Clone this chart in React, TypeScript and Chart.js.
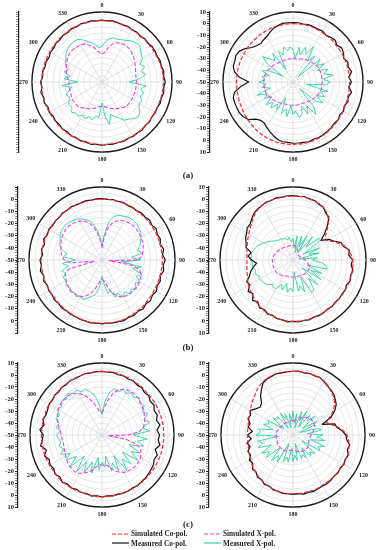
import React, { useEffect, useRef } from "react";
import { Chart, registerables } from "chart.js";
Chart.register(...registerables);

// ---------- categories / tick labels ----------
const ANGLES = [
  0, 5, 10, 15, 20, 25, 30, 35, 40, 45, 50, 55,
  60, 65, 70, 75, 80, 85, 90, 95, 100, 105, 110, 115,
  120, 125, 130, 135, 140, 145, 150, 155, 160, 165, 170, 175,
  180, 185, 190, 195, 200, 205, 210, 215, 220, 225, 230, 235,
  240, 245, 250, 255, 260, 265, 270, 275, 280, 285, 290, 295,
  300, 305, 310, 315, 320, 325, 330, 335, 340, 345, 350, 355,
];
const ANGLE_TICKS = [0, 30, 60, 90, 120, 150, 180, 210, 240, 270, 300, 330];
const LEGEND_LABELS = ["Simulated Co-pol.", "Simulated X-pol.", "Measured Co-pol.", "Measured X-pol."];
const PANEL_LABELS = ["(a)", "(b)", "(c)"];

// ---------- data (dB, every 5 degrees) ----------
const A_L_SIM_CO = [
  0, 0, 0, -0.3, -0.5, -0.5, -0.8, -1, -1, -1, -1.2, -1,
  -1, -0.8, -0.5, -0.3, 0, 0, 0, 0, 0, -0.3, -0.5, -0.5,
  -0.5, -0.3, 0, 0, 0.3, 0.5, 0.5, 0.8, 1, 1, 1, 1,
  1, 1, 1, 1, 0.8, 0.5, 0.5, 0.3, 0, 0, -0.3, -0.5,
  -0.5, -0.5, -0.5, -0.5, -0.5, -0.5, -0.5, -0.8, -1, -1, -1, -1,
  -1, -1, -0.8, -0.5, -0.5, -0.3, 0, 0, 0, 0, 0, 0,
];
const A_L_MEAS_CO = [
  0.5, 0, 0.5, 0, -0.5, 0, -1, -0.5, -1.5, -0.5, -1, 0,
  0, -0.5, 0.5, 0, 1, 0.5, 1.5, 0.5, 1, 0, 0.5, -0.5,
  0, -0.5, 0.5, 0, 1, 0.5, 1, 0.5, 1.5, 1, 1.5, 1,
  1.5, 1, 1.5, 0.5, 1, 0, 0.5, -0.5, 0, -1, -0.5, -1.5,
  -0.5, -1.5, 0, -1, 0.5, -1, 0, -1.5, -1, -2, -1.5, -2.5,
  -1.5, -2, -1, -1.5, -0.5, -1, 0, -0.5, 0.5, 0, 0.5, 0,
];
const A_L_SIM_X = [
  -27, -26, -22, -18, -16, -15, -14.5, -14.5, -15, -16, -17, -18,
  -19, -20, -21, -21.5, -22, -22, -22, -22, -22, -22, -22, -22,
  -22, -22, -22, -22, -23, -24, -25, -26, -27, -28, -29, -30,
  -30, -30, -29, -28, -27, -26, -25, -24, -23, -22, -22, -22,
  -22, -22.5, -23, -23, -23, -23, -23, -22, -21, -20, -19, -18,
  -17, -16, -15, -14.5, -14.5, -15, -15, -16, -18, -20, -23, -26,
];
const A_L_MEAS_X = [
  -21, -17, -14, -13, -13, -12, -11, -9, -8, -7, -9, -11,
  -12, -16, -13, -17, -14, -19, -28, -14, -18, -15, -17, -14,
  -15, -13, -10, -9, -11, -13, -14, -18, -20, -23, -15, -22,
  -33, -21, -22, -18, -20, -17, -19, -16, -17, -15, -18, -17,
  -19, -21, -19, -22, -25, -17, -30, -19, -24, -18, -21, -17,
  -16, -14, -12, -11, -10, -10, -10, -12, -15, -17, -19, -22,
];

const A_R_SIM_CO = [
  0, 0, 0, 0, 0, -0.5, -0.5, -1, -1, -1, -1.5, -1.5,
  -1.5, -1.5, -1.5, -1.5, -1.5, -1.5, -1.5, -1.5, -1.5, -1.5, -1, -1,
  -0.5, 0, 0.5, 1, 1.5, 2, 2.5, 3, 3, 3.5, 3.5, 3.5,
  3.5, 3.5, 3.5, 3.5, 3, 3, 2.5, 2, 1.5, 1, 0.5, 0,
  -0.5, -1, -1, -1.5, -1.5, -1.5, -1.5, -1.5, -1.5, -1.5, -1.5, -1.5,
  -1.5, -1.5, -1, -1, -1, -0.5, -0.5, -0.5, 0, 0, 0, 0,
];
const A_R_MEAS_CO = [
  1, 1, 0.5, 1, 0.5, 0, 0.5, -1, 0, 1, -1, 1,
  0, -2, 0, -1, 1, -2, 0, -2, 1, -1, 0, -1.5,
  0, -1, 0.5, 0, 1, 1.5, 2, 2.5, 2, 3, 2.5, 2.5,
  2.5, 2, 2, 1, -1, -3, -5, -7, -7, -5, 0, 2,
  3, 3, 3, 3, 1, -5, -12, -4, 1, 3, 3, 4,
  3, 0, -4, -6, -7, -6, -5, -3, -1, 0, 1, 1,
];
const A_R_SIM_X = [
  -30, -30, -30, -29.5, -29, -28.5, -28, -27.5, -27, -26.5, -26, -25.5,
  -25, -25, -25, -25, -25, -25, -25, -25, -25, -25, -25.5, -26,
  -26.5, -27, -27.5, -28, -28.5, -29, -29.5, -30, -30, -30, -30, -30,
  -30, -30, -30, -30, -30, -29.5, -29, -28.5, -28, -27.5, -27, -26.5,
  -26, -25.5, -25, -25, -25, -25, -25, -25, -25, -25.5, -26, -26.5,
  -27, -27.5, -28, -28.5, -29, -29.5, -30, -30, -30, -30, -30, -30,
];
const A_R_MEAS_X = [
  -22, -30, -20, -26, -18, -24, -15, -28, -21, -44, -20, -25,
  -19, -27, -18, -23, -15, -24, -18, -22, -38, -19, -25, -20,
  -27, -19, -24, -42, -22, -16, -26, -20, -28, -21, -19, -25,
  -22, -30, -20, -26, -21, -35, -22, -27, -21, -25, -20, -28,
  -22, -26, -17, -30, -23, -27, -21, -26, -23, -29, -22, -27,
  -40, -23, -16, -22, -26, -20, -38, -21, -25, -19, -23, -20,
];

const B_L_SIM_CO = [
  0, 0, 0, 0, 0, 0, -0.5, -0.5, -0.5, -0.5, -0.5, -0.5,
  -0.5, -0.5, -0.5, -0.5, -0.5, -0.5, -0.5, -0.5, -0.5, -0.5, -0.5, -0.5,
  -0.5, 0, 0, 0.5, 1, 1, 1.5, 1.5, 2, 2, 2, 2,
  2, 2, 2, 2, 1.5, 1.5, 1, 1, 0.5, 0.5, 0, 0,
  0, 0, 0, 0, 0, 0, 0, 0, 0, 0, 0, 0,
  0, 0, 0, 0, 0, 0, 0, 0, 0, 0, 0, 0,
];
const B_L_MEAS_CO = [
  0.5, 0, 0.5, 0, 0.5, -0.5, 0, -0.5, 0.5, 0, 1, 0,
  1.5, 0, 1, -0.5, 1.5, 0, 2, 0.5, 1.5, -0.5, 1, 0,
  1.5, 0.5, 2, 1, 2.5, 1.5, 2.5, 2, 3, 2.5, 2.5, 2,
  2.5, 2, 2.5, 2, 2, 1.5, 1.5, 1, 1.5, 0.5, 1, 0,
  0.5, -0.5, 1, -0.5, 1.5, 0, 1, -1, 0.5, -1, 1, -0.5,
  0.5, -0.5, 0, -0.5, 0.5, 0, 0.5, 0, 0, 0.5, 0, 0.5,
];
const B_L_SIM_X = [
  -40, -32, -24, -19, -16, -14, -13, -12.5, -12, -12, -12, -12.5,
  -13, -13.5, -14, -15, -16, -17, -21, -44, -24, -18, -16, -15,
  -14.5, -14, -14, -14, -14, -14.5, -15, -17, -20, -24, -29, -33,
  -34, -33, -29, -24, -20, -17, -15, -14.5, -14, -14, -14.5, -15,
  -16, -17, -18, -22, -44, -24, -19, -17, -16, -15, -14, -13,
  -12, -11.5, -11, -11, -11.5, -12, -13, -15, -17, -21, -27, -34,
];
const B_L_MEAS_X = [
  -38, -30, -18, -13, -11, -10, -9, -8.5, -8.5, -9, -10, -11,
  -13, -15, -17, -20, -16, -26, -18, -34, -17, -24, -15, -19,
  -14, -17, -13, -16, -14, -18, -15, -20, -17, -24, -22, -30,
  -37, -28, -22, -19, -17, -14, -16, -13, -15, -13, -15, -14,
  -16, -15, -18, -16, -22, -17, -28, -18, -21, -15, -13, -12,
  -10, -9, -8.5, -8.5, -9, -10, -11, -13, -15, -18, -24, -31,
];

const B_R_SIM_CO = [
  2.5, 2.5, 2.5, 2, 1.5, 1, 0, -2, -5, -9, -14, -18,
  -18, -14, -10, -6, -3.5, -2, -1, -0.5, -0.5, -0.5, -0.5, -0.5,
  -0.5, -0.5, -0.5, -0.5, -0.5, -0.5, 0, 0, 0, 0.5, 0.5, 0.5,
  0.5, 0.5, 0, -0.5, -1, -1.5, -2, -3, -4, -5, -6, -7,
  -8, -9, -10, -11, -11.5, -12, -12, -12, -11.5, -11, -10, -9,
  -8, -6.5, -5, -3, -1, 0.5, 1.5, 2, 2.5, 2.5, 2.5, 2.5,
];
const B_R_MEAS_CO = [
  3, 2.5, 3, 2, 2, 0.5, 0, -3, -4, -10, -16, -22,
  -16, -13, -8, -7, -3, -4, -1, -2, 0, -1, 0, -1.5,
  -0.5, -1, -0.5, -1, 0, -0.5, 0, 0.5, 0, 1, 0.5, 1,
  0.5, 1, 0, 0, -1.5, -1, -3, -2, -5, -3, -7, -5,
  -9, -8, -12, -14, -17, -20, -16, -13, -15, -10, -9, -7,
  -6, -4, -4, -2, 0, 1, 1.5, 2.5, 2, 3, 2.5, 3,
];
const B_R_SIM_X = [
  -38, -38, -38.5, -39, -40, -41, -42, -43, -43.5, -44, -44, -44,
  -44, -43.5, -43, -42.5, -42, -41, -40, -39, -38, -37, -36, -35.5,
  -35, -35, -35, -35, -35, -35.5, -36, -36, -36, -36, -36, -36,
  -36, -36, -36, -36, -36, -35.5, -35, -34.5, -34, -33.5, -33, -33,
  -33, -33, -33, -33, -33, -33, -33, -33, -33.5, -34, -34.5, -35,
  -35.5, -36, -36.5, -37, -37, -37.5, -37.5, -38, -38, -38, -38, -38,
];
const B_R_MEAS_X = [
  -32, -40, -30, -44, -29, -38, -27, -42, -25, -35, -22, -24,
  -40, -26, -36, -28, -45, -30, -34, -27, -22, -21, -38, -24,
  -33, -22, -40, -21, -30, -20, -19, -35, -22, -28, -24, -40,
  -24, -27, -23, -30, -24, -28, -23, -22, -24, -21, -20, -19,
  -18, -19, -17, -18, -16, -17, -15, -16, -15, -17, -18, -20,
  -22, -24, -26, -28, -29, -30, -30, -31, -31, -33, -31, -35,
];

const C_L_SIM_CO = [
  3, 3, 3, 3, 2.5, 2.5, 2, 2, 2, 1.5, 1.5, 1.5,
  1.5, 1.5, 1.5, 1.5, 1.5, 1.5, 1.5, 1.5, 1.5, 1.5, 1.5, 1.5,
  1.5, 1.5, 1.5, 1.5, 1.5, 1.5, 1.5, 1.5, 1.5, 1.5, 1.5, 1.5,
  1.5, 1.5, 1.5, 1, 1, 1, 1, 1, 1, 1, 0.5, 0.5,
  0.5, 0.5, 0.5, 0.5, 0.5, 0.5, 0.5, 0.5, 0.5, 0.5, 0.5, 1,
  1, 1, 1.5, 1.5, 2, 2, 2.5, 2.5, 2.5, 3, 3, 3,
];
const C_L_MEAS_CO = [
  3, 2.5, 3, 2, 2.5, 1.5, 2, 1, 1.5, 0, 1, -1,
  0, -2, -1, -3, -1, -4, -2, -3, -1, -4, -1, -2,
  -0.5, 0, 0.5, 1, 1, 1.5, 1, 1.5, 1.5, 1, 1.5, 1,
  1.5, 1, 1.5, 0.5, 1, 0, 1, 0, 1.5, -0.5, 1, -1,
  0, -1.5, 1, -2, 2, 0, -1, 2, -1, 1, -0.5, 0,
  1, 0.5, 1.5, 1, 2, 1.5, 2.5, 2, 2.5, 3, 2.5, 3,
];
const C_L_SIM_X = [
  -31, -27, -20, -14, -10, -8, -7, -6.5, -6.5, -7, -8, -9,
  -10, -11, -12, -13.5, -15, -19, -28, -45, -30, -20, -16, -14,
  -13, -12, -12, -12, -12.5, -13, -14, -16, -18, -21, -24, -25,
  -25, -25, -23, -20, -17, -15, -13, -12, -12, -12.5, -13, -14,
  -15, -16, -16.5, -17, -17, -16.5, -16, -15, -13.5, -12, -10.5, -9,
  -8, -7, -6.5, -6.5, -7, -8, -10, -13, -17, -22, -27, -31,
];
const C_L_MEAS_X = [
  -33, -22, -14, -10, -12, -8, -10, -7, -9, -6, -9, -7,
  -11, -8, -13, -9, -16, -10, -24, -12, -20, -14, -26, -15,
  -22, -13, -28, -16, -24, -14, -30, -17, -25, -19, -32, -23,
  -27, -21, -31, -17, -26, -15, -24, -13, -27, -12, -22, -14,
  -19, -12, -16, -13, -15, -14, -12, -15, -11, -13, -9, -11,
  -7, -9, -6, -8, -5, -8, -7, -10, -9, -13, -17, -25,
];

const C_R_SIM_CO = [
  3, 3, 3, 3, 3, 2.5, 2, 0.5, -1.5, -3, -5, -8,
  -12, -17, -20, -17, -12, -8, -5, -3.5, -2.5, -2, -1.5, -1.5,
  -1.5, -1.5, -1.5, -1.5, -1.5, -1.5, -1.5, -1, -1, -1, -1, -1,
  -1, -1, -1, -1.5, -2, -2.5, -3, -4, -5, -6, -7, -8,
  -9, -10, -11, -11.5, -12, -12, -12, -12, -12, -11.5, -11, -10,
  -9, -7.5, -6, -4.5, -2.5, -0.5, 1, 2, 2.5, 3, 3, 3,
];
const C_R_MEAS_CO = [
  3, 3.5, 2.5, 3, 2.5, 3, 1.5, 0, -1, -2, -4, -6,
  -10, -15, -24, -14, -13, -9, -6, -5, -2, -3, -1, -2,
  -1, -2, -1, -1.5, -1, -0.5, -1, -0.5, 0, -0.5, 0, -1,
  -0.5, -1, -0.5, -1.5, -1.5, -3, -2.5, -4.5, -4, -6.5, -6, -9,
  -8, -11, -10, -13, -11, -15, -12, -16, -12, -13, -10, -11,
  -9, -12, -14, -13, -8, -4, 0, 1.5, 2, 3, 2.5, 3,
];
const C_R_SIM_X = [
  -38, -38, -37, -36, -35, -34, -33, -32, -31, -30, -30, -30,
  -30, -30.5, -31, -32, -33, -34, -35, -35.5, -36, -36, -36, -35.5,
  -35, -34.5, -34, -34, -34, -34, -34.5, -35, -35.5, -36, -36.5, -37,
  -37, -37, -37, -36.5, -36, -35.5, -35, -35, -35, -35, -35, -35,
  -35, -35.5, -36, -36, -36, -36, -36, -36, -36, -36.5, -37, -37,
  -37.5, -38, -38, -38, -38, -38, -38.5, -38.5, -38.5, -38.5, -38, -38,
];
const C_R_MEAS_X = [
  -30, -40, -32, -44, -29, -37, -27, -42, -28, -33, -26, -40,
  -27, -31, -44, -29, -26, -38, -25, -30, -23, -35, -22, -27,
  -24, -41, -26, -30, -27, -37, -28, -32, -29, -43, -28, -33,
  -28, -39, -27, -31, -26, -42, -24, -29, -22, -35, -21, -26,
  -20, -30, -19, -24, -20, -38, -19, -23, -21, -33, -24, -28,
  -26, -41, -28, -32, -30, -43, -29, -35, -31, -44, -32, -38,
];

// ---------- layout / styles ----------
const RMIN = -50;
const AXW = 24;
const PAD_T = 14;
const PAD_B = 16;
const PAD_R = 20;
const FONT = '"Liberation Serif", "Times New Roman", serif';

type Panel = {
  id: string; cx: number; cy: number; r: number; axisX: number;
  max: number; labelMax: number;
  simCo: number[]; simX: number[]; measCo: number[]; measX: number[];
};

const PANELS: Panel[] = [
  { id: "aL", cx: 102, cy: 82, r: 70, axisX: 19, max: 7, labelMax: 0, simCo: A_L_SIM_CO, simX: A_L_SIM_X, measCo: A_L_MEAS_CO, measX: A_L_MEAS_X },
  { id: "aR", cx: 293, cy: 82, r: 70, axisX: 210, max: 10, labelMax: 10, simCo: A_R_SIM_CO, simX: A_R_SIM_X, measCo: A_R_MEAS_CO, measX: A_R_MEAS_X },
  { id: "bL", cx: 102, cy: 260, r: 73, axisX: 18, max: 10, labelMax: 0, simCo: B_L_SIM_CO, simX: B_L_SIM_X, measCo: B_L_MEAS_CO, measX: B_L_MEAS_X },
  { id: "bR", cx: 293, cy: 260, r: 73, axisX: 209, max: 10, labelMax: 10, simCo: B_R_SIM_CO, simX: B_R_SIM_X, measCo: B_R_MEAS_CO, measX: B_R_MEAS_X },
  { id: "cL", cx: 102, cy: 435, r: 72, axisX: 18, max: 10, labelMax: 10, simCo: C_L_SIM_CO, simX: C_L_SIM_X, measCo: C_L_MEAS_CO, measX: C_L_MEAS_X },
  { id: "cR", cx: 293, cy: 435, r: 72, axisX: 209, max: 10, labelMax: 10, simCo: C_R_SIM_CO, simX: C_R_SIM_X, measCo: C_R_MEAS_CO, measX: C_R_MEAS_X },
];

const PANEL_LABEL_Y = [176, 348, 525];

const STYLE = {
  simCo: { color: "#ff2626", dash: [4, 2], width: 1.2 },
  simX: { color: "#f03cf0", dash: [4, 2], width: 1.1 },
  measCo: { color: "#111111", dash: [] as number[], width: 1.2 },
  measX: { color: "#2fd49f", dash: [] as number[], width: 0.9 },
};

const angleLabelPlugin = {
  id: "angleLabels",
  afterDraw(chart: any) {
    const s = chart.scales.r;
    const ctx = chart.ctx;
    ctx.save();
    ctx.font = `bold 6px ${FONT}`;
    ctx.fillStyle = "#222";
    ctx.textAlign = "center";
    ctx.textBaseline = "middle";
    ANGLE_TICKS.forEach((a) => {
      const idx = ANGLES.indexOf(a);
      const text = String(a);
      const w = ctx.measureText(text).width;
      const th = ((a - 90) * Math.PI) / 180;
      const d = s.drawingArea + 4 + (w / 2) * Math.abs(Math.cos(th)) + 3 * Math.abs(Math.sin(th));
      const p = s.getPointPosition(idx, d);
      ctx.fillText(text, p.x, p.y);
    });
    ctx.restore();
  },
};

function ds(label: string, data: number[], st: { color: string; dash: number[]; width: number }) {
  return {
    label,
    data,
    borderColor: st.color,
    borderWidth: st.width,
    borderDash: st.dash,
    backgroundColor: "transparent",
    fill: false,
    pointRadius: 0,
    pointHoverRadius: 0,
    borderJoinStyle: "round" as const,
  };
}

function PolarPanel({ p }: { p: Panel }) {
  const ref = useRef<HTMLCanvasElement>(null);
  const W = AXW + (p.cx - p.axisX) + p.r + PAD_R;
  const H = PAD_T + 2 * p.r + PAD_B;
  useEffect(() => {
    if (!ref.current) return;
    const span = p.max - RMIN;
    const chart = new Chart(ref.current, {
      type: "radar",
      data: {
        labels: ANGLES,
        datasets: [
          ds(LEGEND_LABELS[0], p.simCo, STYLE.simCo),
          ds(LEGEND_LABELS[1], p.simX, STYLE.simX),
          ds(LEGEND_LABELS[2], p.measCo, STYLE.measCo),
          ds(LEGEND_LABELS[3], p.measX, STYLE.measX),
        ],
      },
      options: {
        responsive: false,
        animation: false,
        devicePixelRatio: 1,
        layout: { padding: { left: 0, top: PAD_T, right: PAD_R, bottom: PAD_B } },
        plugins: { legend: { display: false }, tooltip: { enabled: false } },
        elements: { line: { tension: 0 }, point: { radius: 0 } },
        scales: {
          r: {
            min: RMIN,
            max: p.max,
            startAngle: 0,
            ticks: { display: false, stepSize: 5 },
            pointLabels: { display: false },
            grid: {
              circular: true,
              color: (c: any) => (c.tick && c.tick.value === p.max ? "#1a1a1a" : "#d8d8d8"),
              lineWidth: (c: any) => (c.tick && c.tick.value === p.max ? 1.4 : 0.6),
            },
            angleLines: {
              display: true,
              color: "#d4d4d4",
              lineWidth: (c: any) => (c.index % 6 === 0 ? 0.7 : 0),
            },
            afterFit: (s: any) => {
              s.xCenter = s.left + (p.cx - p.axisX);
            },
          } as any,
          y: {
            type: "linear",
            position: "left",
            min: -span,
            max: span,
            afterFit: (s: any) => {
              s.width = AXW;
            },
            ticks: {
              stepSize: 2,
              autoSkip: false,
              includeBounds: false,
              padding: 1,
              color: "#222",
              font: { family: FONT, size: 6.5, weight: "bold" },
              callback: (v: any) => {
                const n = Math.round(Number(v));
                if (n % 10 !== 0) return "";
                const dB = Math.abs(n) + RMIN;
                if (dB > p.labelMax) return "";
                return String(dB);
              },
            },
            grid: {
              drawOnChartArea: false,
              drawTicks: true,
              tickLength: 3,
              tickColor: "#222",
              tickWidth: (c: any) => (c.tick && Math.round(c.tick.value) % 10 === 0 ? 1 : 0.5),
            },
            border: { display: true, color: "#222", width: 1.2 },
          } as any,
        },
      },
      plugins: [angleLabelPlugin],
    } as any);
    return () => chart.destroy();
  }, []);
  return (
    <canvas
      ref={ref}
      width={W}
      height={H}
      style={{ position: "absolute", left: p.axisX - AXW, top: p.cy - p.r - PAD_T, width: W, height: H }}
    />
  );
}

function LegendItem({ x, y, label, st }: { x: number; y: number; label: string; st: { color: string; dash: number[]; width: number } }) {
  return (
    <div style={{ position: "absolute", left: x, top: y - 5, height: 10, display: "flex", alignItems: "center", whiteSpace: "nowrap" }}>
      <svg width={17} height={4} style={{ marginRight: 2 }}>
        <line x1={0} y1={2} x2={17} y2={2} stroke={st.color} strokeWidth={1.2} strokeDasharray={st.dash.length ? st.dash.join(" ") : undefined} />
      </svg>
      <span style={{ font: `bold 7.3px ${FONT}`, color: "#222" }}>{label}</span>
    </div>
  );
}

export default function App() {
  return (
    <div style={{ position: "absolute", left: 0, top: 0, width: 376, height: 550, overflow: "hidden", background: "#fff" }}>
      {PANELS.map((p) => (
        <PolarPanel key={p.id} p={p} />
      ))}
      {PANEL_LABELS.map((t, i) => (
        <div
          key={t}
          style={{ position: "absolute", left: 0, width: 376, top: PANEL_LABEL_Y[i] - 6, height: 12, lineHeight: "12px", textAlign: "center", font: `bold 9px ${FONT}`, color: "#222" }}
        >
          {t}
        </div>
      ))}
      <LegendItem x={112} y={533.5} label={LEGEND_LABELS[0]} st={STYLE.simCo} />
      <LegendItem x={204} y={533.5} label={LEGEND_LABELS[1]} st={STYLE.simX} />
      <LegendItem x={112} y={543} label={LEGEND_LABELS[2]} st={STYLE.measCo} />
      <LegendItem x={204} y={543} label={LEGEND_LABELS[3]} st={STYLE.measX} />
    </div>
  );
}
